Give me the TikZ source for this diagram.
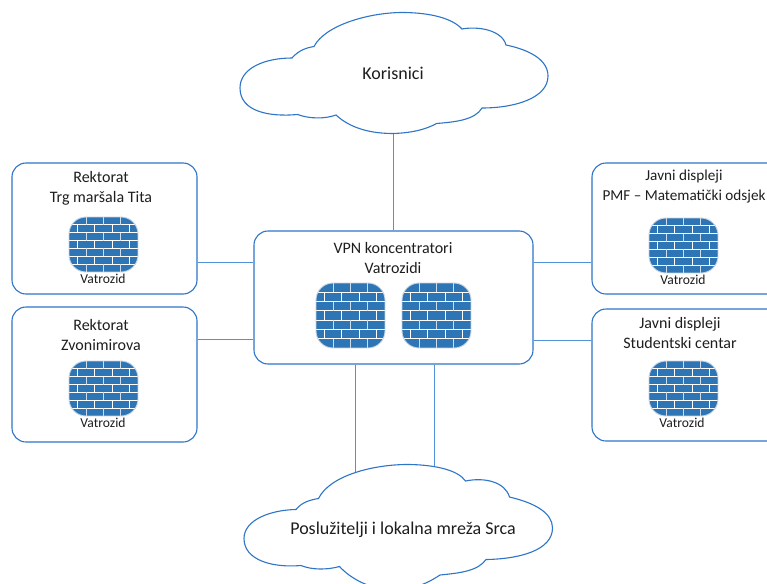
\documentclass[tikz,border=0pt]{standalone}
\usepackage{fontspec}
\setmainfont{Carlito}
\definecolor{outl}{RGB}{46,117,200}
\definecolor{conn}{RGB}{80,145,215}
\definecolor{brick}{RGB}{46,117,182}
\definecolor{rim}{RGB}{200,212,224}
\definecolor{txt}{RGB}{30,30,30}
\newcommand{\fwh}{65}
\tikzset{
  boxnode/.style={draw=outl,line width=1.1pt,rounded corners=14pt,fill=white,inner sep=0pt},
  linkline/.style={draw=conn,line width=0.8pt},
  cloudline/.style={draw=outl,line width=1.1pt,fill=white},
  label1/.style={text=txt,align=center,inner sep=0pt,font=\fontsize{16}{20}\selectfont},
  label1b/.style={text=txt,align=center,inner sep=0pt,font=\fontsize{15.2}{20}\selectfont},
  label2/.style={text=txt,align=center,inner sep=0pt,font=\fontsize{18}{20}\selectfont},
  label3/.style={text=txt,inner sep=0pt,font=\fontsize{13.6}{14}\selectfont},
  fw/.pic={
    \pgfmathsetmacro{\rh}{\fwh/7}
    \begin{scope}
      \clip[rounded corners=17pt] (0,0) rectangle (69,\fwh);
      \fill[brick] (0,0) rectangle (69,\fwh);
      \foreach \r in {1,...,6} {\draw[white,line width=0.9pt] (0,{\rh*\r}) -- (69,{\rh*\r});}
      \foreach \r in {0,2,4,6} {
        \foreach \v in {17.3,34.6,51.9} {\draw[white!75!brick,line width=0.9pt] (\v,{\rh*\r}) -- (\v,{\rh*\r+\rh});}
      }
      \foreach \r in {1,3,5} {
        \foreach \v in {8.6,25.9,43.2,60.5} {\draw[white,line width=0.9pt] (\v,{\rh*\r}) -- (\v,{\rh*\r+\rh});}
      }
    \end{scope}
    \draw[rim,line width=0.9pt,rounded corners=17pt] (0,0) rectangle (69,\fwh);
  }
}
\begin{document}
\begin{tikzpicture}[x=1pt,y=-1pt]
\useasboundingbox (0,0) rectangle (767,583);
\clip (0,0) rectangle (767,583);
\fill[white] (0,0) rectangle (767,583);

% boxes
\node[boxnode,minimum width=185pt,minimum height=131pt] (rk1) at (104.5,228.5) {};
\node[boxnode,minimum width=185pt,minimum height=135pt] (rk2) at (104.5,374.5) {};
\node[boxnode,minimum width=279pt,minimum height=133pt] (vpn) at (393.5,297.5) {};
\node[boxnode,minimum width=210pt,minimum height=131pt] (jd1) at (697,228.5) {};
\node[boxnode,minimum width=210pt,minimum height=132pt] (jd2) at (697,375) {};

% anchors of the connectors on the clouds
\coordinate (cb1) at (355,473.5);
\coordinate (cb2) at (434,466);
\coordinate (ca1) at (393,133);

% connectors
\draw[linkline] (rk1.east |- 0,262) -- (vpn.west |- 0,262);
\draw[linkline] (rk2.east |- 0,339) -- (vpn.west |- 0,339);
\draw[linkline] (vpn.east |- 0,262) -- (jd1.west |- 0,262);
\draw[linkline] (vpn.east |- 0,340) -- (jd2.west |- 0,340);
\draw[linkline] (ca1) -- (vpn.north -| ca1);
\draw[linkline] (vpn.south -| cb1) -- (cb1);
\draw[linkline] (vpn.south -| cb2) -- (cb2);

% clouds
\path[cloudline] (292,58) .. controls (298,51) and (305,48) .. (314,46.5)
 .. controls (325,25) and (370,12) .. (405,12.5) .. controls (430,13) and (452,18) .. (462,29)
 .. controls (478,26) and (502,30) .. (506,45)
 .. controls (530,50) and (548,60) .. (548,76) .. controls (548,98) and (515,108) .. (482,108)
 .. controls (475,120) and (455,122) .. (436.5,123.5)
 .. controls (425,130) and (410,133) .. (393,133.5) .. controls (370,133.5) and (350,128) .. (336,115)
 .. controls (325,119) and (310,119) .. (297.5,114.5)
 .. controls (270,117) and (240,112) .. (240,88) .. controls (240,68) and (265,58) .. (292,58) -- cycle;
\path[cloudline] (296,509.5) .. controls (302,502) and (310,500) .. (318.5,498.5)
 .. controls (330,475) and (375,464) .. (410,464.5) .. controls (435,465) and (458,470) .. (465.5,481)
 .. controls (485,477) and (505,482) .. (509.5,497)
 .. controls (535,503) and (552.5,513) .. (552.5,528) .. controls (552.5,550) and (520,559) .. (486,559.5)
 .. controls (478,571) and (460,573) .. (440,575)
 .. controls (425,585) and (410,590) .. (395,590) .. controls (370,590) and (350,578) .. (339.5,566.5)
 .. controls (327,570) and (312,570) .. (301,565.5)
 .. controls (272,568) and (244,560) .. (244,538.5) .. controls (244,520) and (270,510) .. (296,509.5) -- cycle;
\node[label2] (tA) at (393,73.5) {Korisnici};
\node[label2] (tB) at (403,530) {Poslužitelji i lokalna mreža Srca};

% firewalls
\renewcommand{\fwh}{55}
\pic at (69,217) {fw};
\pic at (69,361) {fw};
\pic at (649,218) {fw};
\pic at (649,361) {fw};
\renewcommand{\fwh}{65}
\pic at (316,283) {fw};
\pic at (402,283) {fw};

% labels
\node[label1] (t1) at (101,188) {Rektorat\\Trg maršala Tita};
\node[label1] (t2) at (101,335) {Rektorat\\Zvonimirova};
\node[label1] (t3) at (393,258) {VPN koncentratori\\Vatrozidi};
\node[label1b] (t4) at (684,187) {Javni displeji\\PMF – Matematički odsjek};
\node[label1] (t5) at (680,333) {Javni displeji\\Studentski centar};
\node[label3] (v1) at (103,279) {Vatrozid};
\node[label3] (v2) at (103,423) {Vatrozid};
\node[label3] (v3) at (683,280) {Vatrozid};
\node[label3] (v4) at (682,423) {Vatrozid};
\end{tikzpicture}
\end{document}
